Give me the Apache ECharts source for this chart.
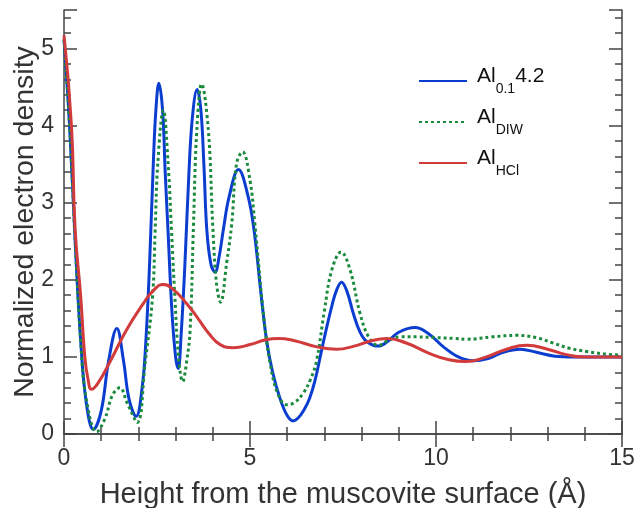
<!DOCTYPE html>
<html>
<head>
<meta charset="utf-8">
<script src="https://cdn.jsdelivr.net/npm/echarts@6/dist/echarts.min.js"></script>
<style>html,body{margin:0;padding:0;background:#fff}#c{width:636px;height:508px}</style>
</head>
<body>
<div id="c"></div>
<script>
// Height from the muscovite surface (Å) vs normalized electron density
var seriesNames = ['Al0.1 4.2', 'AlDIW', 'AlHCl'];

var al01 = [[0,5.12],[0.15,4.0],[0.3,2.5],[0.45,1.2],[0.6,0.4],[0.79,0.06],[1.0,0.3],[1.2,0.95],[1.42,1.37],[1.6,0.95],[1.75,0.45],[1.94,0.23],[2.1,0.6],[2.2,1.2],[2.3,2.2],[2.4,3.5],[2.47,4.2],[2.55,4.55],[2.65,4.2],[2.72,3.4],[2.8,2.6],[2.9,1.6],[3.0,1.0],[3.07,0.85],[3.15,1.3],[3.25,2.2],[3.35,3.3],[3.45,4.1],[3.58,4.47],[3.68,4.2],[3.76,3.5],[3.84,2.64],[3.95,2.2],[4.06,2.1],[4.17,2.3],[4.28,2.64],[4.44,3.08],[4.69,3.43],[4.95,3.08],[5.11,2.64],[5.3,1.8],[5.45,1.2],[5.6,0.82],[5.8,0.47],[6.0,0.24],[6.16,0.17],[6.3,0.21],[6.45,0.31],[6.6,0.46],[6.75,0.7],[6.9,1.03],[7.05,1.36],[7.2,1.66],[7.33,1.87],[7.46,1.97],[7.6,1.86],[7.78,1.56],[7.95,1.33],[8.14,1.2],[8.45,1.14],[8.7,1.2],[9.0,1.32],[9.44,1.38],[9.8,1.3],[10.2,1.13],[10.6,1.0],[11.0,0.95],[11.4,0.98],[11.8,1.06],[12.26,1.1],[12.7,1.06],[13.2,1.01],[13.7,1.0],[14.5,1.0],[15,1.0]];

var alDIW = [[0,5.12],[0.15,4.0],[0.3,2.5],[0.45,1.2],[0.6,0.45],[0.88,0.03],[1.1,0.2],[1.3,0.5],[1.5,0.6],[1.7,0.4],[1.97,0.15],[2.18,0.92],[2.38,1.78],[2.45,2.64],[2.52,3.5],[2.67,4.2],[2.8,3.5],[2.89,2.64],[2.98,1.78],[3.08,1.0],[3.19,0.68],[3.3,0.95],[3.39,1.35],[3.48,2.7],[3.57,3.94],[3.7,4.54],[3.88,3.94],[4.0,2.69],[4.1,1.95],[4.21,1.71],[4.37,2.21],[4.51,2.73],[4.64,3.51],[4.8,3.66],[5.0,3.29],[5.13,2.73],[5.36,1.56],[5.54,0.92],[5.75,0.52],[5.99,0.38],[6.2,0.41],[6.43,0.53],[6.62,0.7],[6.79,0.95],[7.0,1.6],[7.2,2.13],[7.45,2.36],[7.69,2.13],[7.96,1.56],[8.2,1.25],[8.45,1.15],[8.7,1.21],[9.03,1.26],[9.5,1.26],[10.0,1.25],[10.5,1.24],[10.83,1.23],[11.5,1.26],[12.17,1.28],[12.7,1.25],[13.15,1.18],[13.6,1.11],[14.05,1.07],[14.5,1.04],[15,1.02]];

var alHCl = [[0,5.17],[0.2,4.0],[0.3,2.65],[0.45,1.78],[0.56,1.0],[0.65,0.7],[0.74,0.58],[0.9,0.65],[1.24,0.94],[1.68,1.35],[2.13,1.69],[2.4,1.86],[2.67,1.94],[2.95,1.87],[3.3,1.69],[3.6,1.5],[3.9,1.3],[4.2,1.16],[4.55,1.12],[5.0,1.16],[5.4,1.22],[5.76,1.24],[6.2,1.21],[6.8,1.13],[7.33,1.10],[7.8,1.14],[8.2,1.2],[8.67,1.24],[9.2,1.18],[9.8,1.05],[10.3,0.97],[10.8,0.94],[11.3,0.99],[11.9,1.1],[12.44,1.15],[13.0,1.1],[13.5,1.03],[14.0,1.0],[15,1.0]];

var xTicks = [0, 5, 10, 15];
var yTicks = [0, 1, 2, 3, 4, 5];

var FONT = 'Liberation Sans';
var AX = '#444';
var chart = echarts.init(document.getElementById('c'), null, {renderer: 'canvas'});

function yAx(pos, interval, len, labels, line) {
  return {
    type: 'value', position: pos, min: 0, max: 5.5, interval: interval,
    axisLine: {show: line, lineStyle: {color: AX, width: 1.5}},
    axisTick: {show: true, inside: true, length: len, lineStyle: {color: AX, width: 1.5}},
    axisLabel: {show: labels, margin: 10, fontFamily: FONT, fontSize: 23, color: '#333',
      formatter: function (v) { return yTicks.indexOf(v) >= 0 ? String(v) : ''; }},
    splitLine: {show: false},
    name: labels ? 'Normalized electron density' : '',
    nameLocation: 'middle', nameGap: 24, nameMoveOverlap: false,
    nameTextStyle: {fontFamily: FONT, fontSize: 28.5, color: '#333'}
  };
}
function xAx(pos, labels) {
  return {
    type: 'value', position: pos, min: 0, max: 15, interval: 5,
    axisLine: {show: true, lineStyle: {color: AX, width: 1.5}},
    axisTick: {show: true, inside: true, length: 13, lineStyle: {color: AX, width: 1.5}},
    minorTick: {show: true, splitNumber: 5, length: 7, lineStyle: {color: AX, width: 1.5}},
    axisLabel: {show: labels, margin: 13, fontFamily: FONT, fontSize: 23, color: '#333',
      formatter: function (v) { return xTicks.indexOf(v) >= 0 ? String(v) : ''; }},
    splitLine: {show: false}, minorSplitLine: {show: false},
    name: labels ? 'Height from the muscovite surface (Å)' : '',
    nameLocation: 'middle', nameGap: 46, nameMoveOverlap: false,
    nameTextStyle: {fontFamily: FONT, fontSize: 29, color: '#333'}
  };
}

var legendText = {
  'Al0.1 4.2': '{m|Al}{s|0.1}{m|4.2}',
  'AlDIW': '{m|Al}{s|DIW}',
  'AlHCl': '{m|Al}{s|HCl}'
};

chart.setOption({
  animation: false,
  grid: {left: 64, right: 14, top: 10, bottom: 74, containLabel: false, outerBoundsMode: 'none'},
  xAxis: [xAx('bottom', true), xAx('top', false)],
  yAxis: [yAx('left', 1, 13, true, true), yAx('left', 0.2, 7, false, false),
          yAx('right', 1, 13, false, true), yAx('right', 0.2, 7, false, false)],
  legend: {
    orient: 'vertical', left: 413, top: 61, itemWidth: 48, itemHeight: 14, itemGap: 11,
    data: seriesNames,
    itemStyle: {opacity: 0},
    formatter: function (n) { return legendText[n]; },
    textStyle: {
      padding: [0, 0, 0, 5],
      rich: {
        m: {fontFamily: FONT, fontSize: 21, color: '#111', verticalAlign: 'bottom', padding: [0, 0, 9, 0]},
        s: {fontFamily: FONT, fontSize: 14, color: '#111', verticalAlign: 'bottom'}
      }
    }
  },
  series: [
    {name: seriesNames[0], type: 'line', data: al01, smooth: 0.4, symbol: 'none',
     lineStyle: {color: '#0b3ed0', width: 3}, itemStyle: {color: '#0b3ed0'}, z: 2},
    {name: seriesNames[1], type: 'line', data: alDIW, smooth: 0.4, symbol: 'none',
     lineStyle: {color: '#1a8a3c', width: 3, type: [3, 3]}, itemStyle: {color: '#1a8a3c'}, z: 3},
    {name: seriesNames[2], type: 'line', data: alHCl, smooth: 0.5, symbol: 'none',
     lineStyle: {color: '#d23b3b', width: 3}, itemStyle: {color: '#d23b3b'}, z: 4}
  ]
});
</script>
</body>
</html>
